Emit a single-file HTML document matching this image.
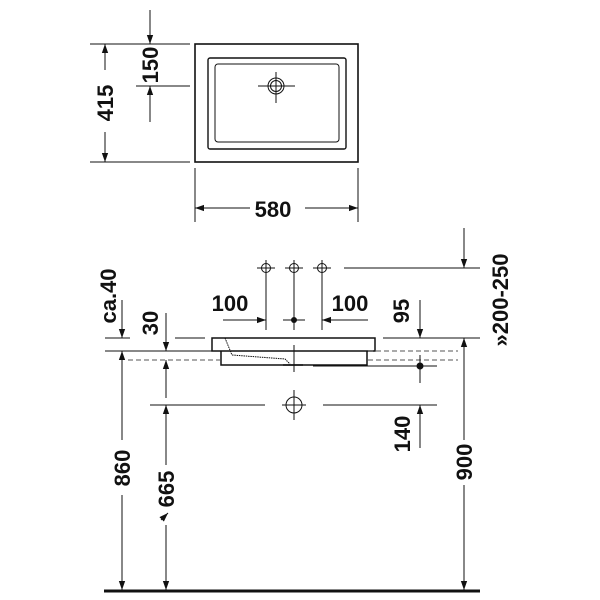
<!DOCTYPE html>
<html><head><style>
html,body{margin:0;padding:0;background:#fff}
svg{display:block}
text{font-family:"Liberation Sans",sans-serif;font-weight:bold;font-size:22px;fill:#111}
</style></head><body>
<svg width="600" height="600" viewBox="0 0 600 600" xmlns="http://www.w3.org/2000/svg">
<defs>
<marker id="a" viewBox="0 0 10 10" refX="10" refY="5" markerWidth="9" markerHeight="9" orient="auto-start-reverse" markerUnits="userSpaceOnUse"><path d="M0,1.5 L10,5 L0,8.5 Z" fill="#111"/></marker>
</defs>
<g stroke="#111" stroke-width="1" fill="none">
<rect x="195" y="44" width="163" height="118" stroke-width="1.6"/>
<rect x="208" y="58" width="138" height="91" rx="2" stroke-width="1.4"/>
<rect x="215" y="64" width="124" height="78" rx="3"/>
<circle cx="276" cy="86" r="8"/><circle cx="276" cy="86" r="5.5"/>
<line x1="258" y1="86" x2="295" y2="86"/><line x1="276" y1="72" x2="276" y2="103"/>
<line x1="90" y1="44" x2="190" y2="44"/><line x1="136" y1="86" x2="190" y2="86"/><line x1="90" y1="162" x2="190" y2="162"/>
<line x1="105" y1="70" x2="105" y2="44" marker-end="url(#a)"/><line x1="105" y1="132" x2="105" y2="162" marker-end="url(#a)"/>
<line x1="150" y1="10" x2="150" y2="44" marker-end="url(#a)"/><line x1="150" y1="122" x2="150" y2="86" marker-end="url(#a)"/>
<line x1="195" y1="168" x2="195" y2="222"/><line x1="358" y1="168" x2="358" y2="222"/>
<line x1="250" y1="208" x2="195" y2="208" marker-end="url(#a)"/><line x1="305" y1="208" x2="358" y2="208" marker-end="url(#a)"/>
<g>
<circle cx="266" cy="268" r="4.5"/><line x1="257" y1="268" x2="275" y2="268"/><line x1="266" y1="260" x2="266" y2="330"/>
<circle cx="294" cy="268" r="4.5"/><line x1="285" y1="268" x2="303" y2="268"/><line x1="294" y1="260" x2="294" y2="330"/>
<circle cx="322" cy="268" r="4.5"/><line x1="313" y1="268" x2="331" y2="268"/><line x1="322" y1="260" x2="322" y2="330"/>
</g>
<line x1="344" y1="268" x2="480" y2="268"/>
<line x1="464" y1="228" x2="464" y2="268" marker-end="url(#a)"/>
<line x1="223" y1="320" x2="266" y2="320" marker-end="url(#a)"/>
<line x1="368" y1="320" x2="322" y2="320" marker-end="url(#a)"/>
<line x1="283" y1="320" x2="305" y2="320"/>
<rect x="212" y="338" width="163" height="13" stroke-width="1.5"/>
<path d="M221,351 V365 H367 V351" stroke-width="1.5"/>
<path d="M225,338 L232,355 L285,359 L290,364" stroke-dasharray="1.5,0.8"/>
<line x1="294" y1="345" x2="294" y2="372"/>
<line x1="283" y1="365" x2="303" y2="365" stroke-width="1.5"/>
<line x1="105" y1="338" x2="130" y2="338"/><line x1="175" y1="338" x2="205" y2="338"/>
<line x1="383" y1="338" x2="480" y2="338"/>
<line x1="105" y1="351" x2="212" y2="351"/>
<line x1="128" y1="360" x2="220" y2="360" stroke-dasharray="5,3" stroke="#555"/>
<line x1="368" y1="351" x2="458" y2="351" stroke-dasharray="5,3" stroke="#555"/>
<line x1="368" y1="360" x2="458" y2="360" stroke-dasharray="5,3" stroke="#555"/>
<line x1="313" y1="366" x2="437" y2="366"/>
<line x1="122" y1="300" x2="122" y2="338" marker-end="url(#a)"/>
<line x1="122" y1="440" x2="122" y2="351" marker-end="url(#a)"/>
<line x1="122" y1="495" x2="122" y2="590" marker-end="url(#a)"/>
<line x1="166" y1="313" x2="166" y2="351" marker-end="url(#a)"/>
<line x1="166" y1="398" x2="166" y2="360" marker-end="url(#a)"/>
<line x1="166" y1="465" x2="166" y2="405" marker-end="url(#a)"/>
<line x1="166" y1="525" x2="166" y2="590" marker-end="url(#a)"/>
<line x1="420" y1="300" x2="420" y2="338" marker-end="url(#a)"/>
<line x1="420" y1="355" x2="420" y2="383"/>
<line x1="420" y1="448" x2="420" y2="405" marker-end="url(#a)"/>
<line x1="464" y1="440" x2="464" y2="338" marker-end="url(#a)"/>
<line x1="464" y1="485" x2="464" y2="590" marker-end="url(#a)"/>
<circle cx="294" cy="405" r="8"/>
<line x1="150" y1="405" x2="265" y2="405"/><line x1="323" y1="405" x2="437" y2="405"/>
<line x1="282" y1="405" x2="306" y2="405"/><line x1="294" y1="390" x2="294" y2="420"/>
<line x1="104" y1="591" x2="480" y2="591" stroke-width="3"/>
<line x1="161" y1="520" x2="168" y2="513" marker-end="url(#a)"/>
</g>
<circle cx="294" cy="320" r="3" fill="#111"/>
<circle cx="420" cy="366" r="3.5" fill="#111"/>
<text x="273" y="217" text-anchor="middle">580</text>
<text transform="translate(113,103) rotate(-90)" text-anchor="middle">415</text>
<text transform="translate(158,65) rotate(-90)" text-anchor="middle">150</text>
<text x="230" y="311" text-anchor="middle">100</text>
<text x="350" y="311" text-anchor="middle">100</text>
<text transform="translate(116,296) rotate(-90)" text-anchor="middle">ca.40</text>
<text transform="translate(158,323) rotate(-90)" text-anchor="middle">30</text>
<text transform="translate(409,311) rotate(-90)" text-anchor="middle">95</text>
<text transform="translate(508,300) rotate(-90)" text-anchor="middle">»200-250</text>
<text transform="translate(410,434) rotate(-90)" text-anchor="middle">140</text>
<text transform="translate(130,468) rotate(-90)" text-anchor="middle">860</text>
<text transform="translate(174,489) rotate(-90)" text-anchor="middle">665</text>
<text transform="translate(472,462) rotate(-90)" text-anchor="middle">900</text>
</svg>
</body></html>
